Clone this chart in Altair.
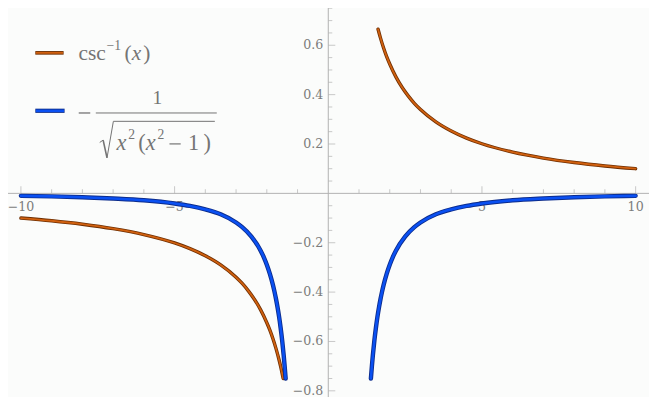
import altair as alt
import pandas as pd

# ---------------- data ----------------
# arccsc(x), right branch
orange_pos_x = [1.62, 1.7, 1.8, 1.9, 2.0, 2.2, 2.4, 2.6, 2.8, 3.0, 3.5, 4.0, 4.5, 5.0, 6.0, 7.0, 8.0, 9.0, 10.0]
orange_pos_y = [0.665, 0.629, 0.589, 0.554, 0.524, 0.472, 0.430, 0.395, 0.365, 0.340, 0.290, 0.253, 0.224, 0.201, 0.167, 0.143, 0.125, 0.111, 0.100]
# arccsc(x), left branch
orange_neg_x = [-10.0, -9.0, -8.0, -7.0, -6.0, -5.0, -4.5, -4.0, -3.5, -3.0, -2.8, -2.6, -2.4, -2.2, -2.0, -1.9, -1.8, -1.7, -1.6, -1.55, -1.5, -1.467]
orange_neg_y = [-0.100, -0.111, -0.125, -0.143, -0.167, -0.201, -0.224, -0.253, -0.290, -0.340, -0.365, -0.395, -0.430, -0.472, -0.524, -0.554, -0.589, -0.629, -0.675, -0.701, -0.730, -0.750]
# -1/sqrt(x^2 (x^2-1)), right branch
blue_pos_x = [1.387, 1.42, 1.45, 1.5, 1.55, 1.6, 1.65, 1.7, 1.75, 1.8, 1.9, 2.0, 2.1, 2.2, 2.5, 2.8, 3.0, 3.5, 4.0, 4.5, 5.0, 6.0, 7.0, 8.0, 9.0, 10.0]
blue_pos_y = [-0.750, -0.699, -0.657, -0.596, -0.545, -0.500, -0.462, -0.428, -0.398, -0.371, -0.326, -0.289, -0.258, -0.232, -0.175, -0.137, -0.118, -0.085, -0.065, -0.051, -0.041, -0.028, -0.021, -0.016, -0.012, -0.010]
# -1/sqrt(x^2 (x^2-1)), left branch
blue_neg_x = [-10.0, -9.0, -8.0, -7.0, -6.0, -5.0, -4.5, -4.0, -3.5, -3.0, -2.8, -2.5, -2.2, -2.1, -2.0, -1.9, -1.8, -1.75, -1.7, -1.65, -1.6, -1.55, -1.5, -1.45, -1.42, -1.387]
blue_neg_y = [-0.010, -0.012, -0.016, -0.021, -0.028, -0.041, -0.051, -0.065, -0.085, -0.118, -0.137, -0.175, -0.232, -0.258, -0.289, -0.326, -0.371, -0.398, -0.428, -0.462, -0.500, -0.545, -0.596, -0.657, -0.699, -0.750]

x_major = [-10, -5, 5, 10]
x_major_labels = ["\u221210", "\u22125", "5", "10"]
x_minor = [-9, -8, -7, -6, -4, -3, -2, -1, 1, 2, 3, 4, 6, 7, 8, 9]
y_major = [-0.8, -0.6, -0.4, -0.2, 0.2, 0.4, 0.6]
y_major_labels = ["\u22120.8", "\u22120.6", "\u22120.4", "\u22120.2", "0.2", "0.4", "0.6"]
y_minor = [-0.75, -0.7, -0.65, -0.55, -0.5, -0.45, -0.35, -0.3, -0.25, -0.15, -0.1, -0.05,
           0.05, 0.1, 0.15, 0.25, 0.3, 0.35, 0.45, 0.5, 0.55, 0.65, 0.7, 0.75]

X_DOMAIN = [-10.42, 10.435]
Y_DOMAIN = [-0.825, 0.751]

# ---------------- layout ----------------
W, H = 641, 389
FX, FY = W / 657, H / 405
def px(v):
    return v * FX
def py(v):
    return v * FY

SERIF = "'DejaVu Serif', 'Liberation Serif', serif"
SERIF2 = "'Liberation Serif', 'DejaVu Serif', serif"
AXIS_COL = "#b2b2b2"
LBL_COL = "#7c7c7c"
TXT_COL = "#747474"
ORANGE_EDGE, ORANGE = "#6e2e00", "#d0600f"
BLUE_EDGE, BLUE = "#0c2c8c", "#0a50f2"

xsc = alt.Scale(domain=X_DOMAIN, nice=False, zero=False)
ysc = alt.Scale(domain=Y_DOMAIN, nice=False, zero=False)

rows = []
for xs_, ys_, s, b in [(orange_pos_x, orange_pos_y, "orange", "op"),
                       (orange_neg_x, orange_neg_y, "orange", "on"),
                       (blue_pos_x, blue_pos_y, "blue", "bp"),
                       (blue_neg_x, blue_neg_y, "blue", "bn")]:
    for a, c in zip(xs_, ys_):
        rows.append({"x": a, "y": c, "series": s, "branch": b})
curves = pd.DataFrame(rows)

one = pd.DataFrame({"k": [0]})

def XF(f):
    return alt.X(f, scale=xsc, axis=None)
def YF(f):
    return alt.Y(f, scale=ysc, axis=None)
X0 = alt.XDatum(0, scale=xsc, axis=None)
Y0 = alt.YDatum(0, scale=ysc, axis=None)

# axes lines
xaxis = alt.Chart(pd.DataFrame({"x1": [X_DOMAIN[0]], "x2": [X_DOMAIN[1]]})).mark_rule(
    color=AXIS_COL, strokeWidth=1).encode(x=XF("x1:Q"), x2="x2:Q", y=Y0)
yaxis = alt.Chart(pd.DataFrame({"y1": [Y_DOMAIN[0]], "y2": [Y_DOMAIN[1]]})).mark_rule(
    color=AXIS_COL, strokeWidth=1).encode(y=YF("y1:Q"), y2="y2:Q", x=X0)

def xticks(vals, size):
    return alt.Chart(pd.DataFrame({"v": vals})).mark_tick(
        orient="vertical", size=size, thickness=1, color=AXIS_COL, yOffset=-size / 2).encode(
        x=XF("v:Q"), y=Y0)

def yticks(vals, size):
    return alt.Chart(pd.DataFrame({"v": vals})).mark_tick(
        orient="horizontal", size=size, thickness=1, color=AXIS_COL, xOffset=size / 2).encode(
        y=YF("v:Q"), x=X0)

xlabels = alt.Chart(pd.DataFrame({"v": x_major, "t": x_major_labels})).mark_text(
    font=SERIF, fontSize=12.6, color=LBL_COL, align="center", baseline="middle", dy=13.5).encode(
    x=XF("v:Q"), y=Y0, text="t:N")
ylabels = alt.Chart(pd.DataFrame({"v": y_major, "t": y_major_labels})).mark_text(
    font=SERIF, fontSize=12.6, color=LBL_COL, align="right", baseline="middle", dx=-5).encode(
    y=YF("v:Q"), x=X0, text="t:N")

def curve(series, color, width):
    return alt.Chart(curves[curves.series == series]).mark_line(
        color=color, strokeWidth=width, interpolate="monotone", strokeCap="round").encode(
        x=XF("x:Q"), y=YF("y:Q"), detail="branch:N", order="x:Q")

# ---------------- legend (reference pixel positions) ----------------
def seg(x1, y1, x2, y2, color, width, cap="butt"):
    return alt.Chart(one).mark_rule(color=color, strokeWidth=width, strokeCap=cap).encode(
        x=alt.value(px(x1)), y=alt.value(py(y1)), x2=alt.value(px(x2)), y2=alt.value(py(y2)))

def txt(t, x, y, size, italic=False, align="left"):
    return alt.Chart(one).mark_text(
        text=t, font=SERIF2, fontSize=size * 0.97, fontStyle="italic" if italic else "normal",
        color=TXT_COL, align=align, baseline="alphabetic").encode(
        x=alt.value(px(x)), y=alt.value(py(y)))

legend = [
    seg(28, 46.7, 57, 46.7, ORANGE_EDGE, 3.6),
    seg(28.6, 46.7, 56.4, 46.7, ORANGE, 1.8),
    seg(28, 107, 58, 107, BLUE_EDGE, 4.2),
    seg(28.6, 107, 57.4, 107, BLUE, 2.4),
    txt("csc", 72.3, 54.3, 22),
    txt("\u22121", 101, 43.5, 14),
    txt("(", 119.5, 54.3, 22),
    txt("x", 126.8, 54.3, 22, italic=True),
    txt(")", 138.5, 54.3, 22),
    # minus sign and fraction bar
    seg(72.5, 109.3, 84.3, 109.3, TXT_COL, 1.3),
    seg(90, 109.3, 214, 109.3, TXT_COL, 1.0),
    txt("1", 153, 99.5, 20, align="center"),
    # radical sign
    seg(94, 140, 97.5, 137.5, TXT_COL, 1.0),
    seg(97.5, 137.5, 101.5, 156, TXT_COL, 1.6),
    seg(101.5, 156, 108, 118, TXT_COL, 1.0),
    seg(108, 118, 212, 118, TXT_COL, 1.0),
    # radicand  x^2 (x^2 - 1)
    txt("x", 111.2, 148, 23, italic=True),
    txt("2", 123.3, 136.5, 14),
    txt("(", 133.5, 148, 23),
    txt("x", 141.2, 148, 23, italic=True),
    txt("2", 153.2, 136.5, 14),
    seg(165.5, 141.5, 177, 141.5, TXT_COL, 1.2),
    txt("1", 184.5, 148, 23),
    txt(")", 200.5, 148, 23),
]

chart = alt.layer(
    xaxis, yaxis,
    xticks(x_minor, 4), xticks(x_major, 7),
    yticks(y_minor, 4), yticks(y_major, 7),
    xlabels, ylabels,
    curve("orange", ORANGE_EDGE, 3.4), curve("orange", ORANGE, 1.8),
    curve("blue", BLUE_EDGE, 4.4), curve("blue", BLUE, 2.6),
    *legend,
).properties(
    width=W, height=H, padding=0,
    autosize=alt.AutoSizeParams(type="none"),
    background="#fbfcfb",
).configure_view(stroke=None)

chart.save("out.html", embed_options={"renderer": "svg", "actions": False})
